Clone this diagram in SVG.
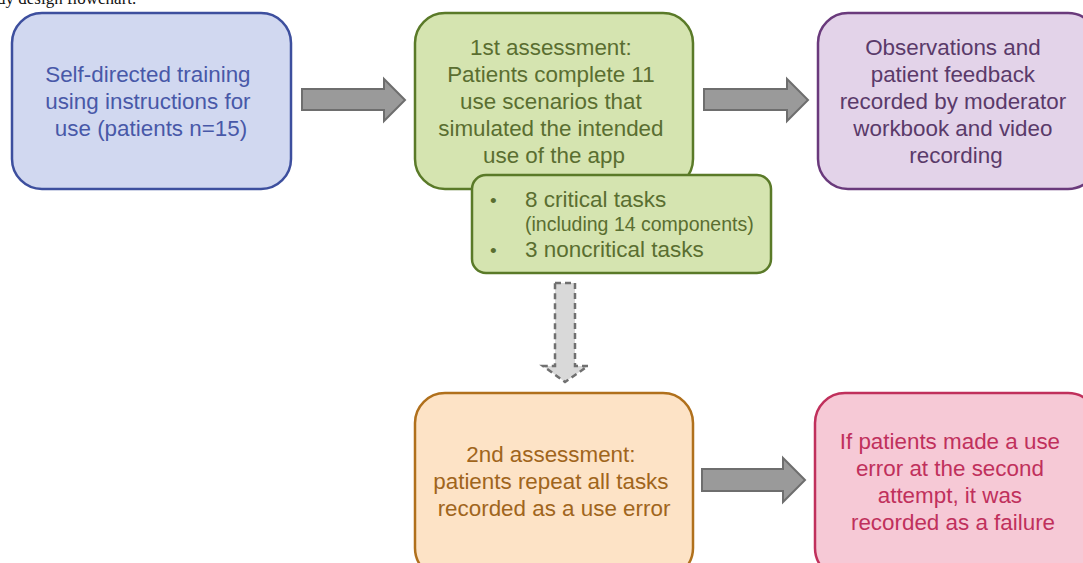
<svg xmlns="http://www.w3.org/2000/svg" width="1083" height="563" viewBox="0 0 1083 563">
  <style>
    .lbl { font-family: "Liberation Sans", Arial, sans-serif; font-size: 22.4px; text-anchor: middle; }
    .box { stroke-width: 2.5; }
    .flow { fill: #9a9a9a; stroke: #6e6e6e; stroke-width: 2; stroke-linejoin: miter; }
    .dashed { fill: #d9d9d9; stroke: #707070; stroke-width: 2.5; stroke-dasharray: 6 4; }
  </style>
  <rect width="1083" height="563" fill="#ffffff"/>

  <!-- caption, clipped at the top edge -->
  <text x="-3" y="4" font-family="Liberation Serif, serif" font-size="17" fill="#111">dy design flowchart.</text>

  <g id="connectors">
    <path class="flow" d="M302,89 H384 V79 L405,100 L384,121 V110 H302 Z"/>
    <path class="flow" d="M704,89 H787 V79 L808,100 L787,121 V110 H704 Z"/>
    <path class="flow" d="M702,469 H783 V458 L805,480 L783,502 V491 H702 Z"/>
    <path class="dashed" d="M555,283 H575 V366 H588 L565,382 L543,366 H555 Z"/>
  </g>

  <g id="training">
    <rect class="box" x="12" y="13" width="279" height="176" rx="30" fill="#d1d8f0" stroke="#3d4f9e"/>
    <text class="lbl" fill="#4858a8">
      <tspan x="151" y="82">Self-directed training</tspan>
      <tspan x="151" y="109">using instructions for</tspan>
      <tspan x="151" y="136">use (patients n=15)</tspan>
    </text>
  </g>

  <g id="assessment1">
    <rect class="box" x="415" y="13" width="278" height="176" rx="30" fill="#d5e4b0" stroke="#5a7a28"/>
    <text class="lbl" fill="#5a6e30">
      <tspan x="554" y="55">1st assessment:</tspan>
      <tspan x="554" y="82">Patients complete 11</tspan>
      <tspan x="554" y="109">use scenarios that</tspan>
      <tspan x="554" y="136">simulated the intended</tspan>
      <tspan x="554" y="163">use of the app</tspan>
    </text>
  </g>

  <g id="tasks">
    <rect class="box" x="472" y="175" width="299" height="98" rx="14" fill="#d5e4b0" stroke="#5a7a28"/>
    <g font-family="Liberation Sans, Arial, sans-serif" fill="#5a6e30">
      <text x="490" y="207" font-size="19">•</text>
      <text x="525" y="207" font-size="22.5">8 critical tasks</text>
      <text x="525" y="231" font-size="19.5">(including 14 components)</text>
      <text x="490" y="257" font-size="19">•</text>
      <text x="525" y="257" font-size="22.5">3 noncritical tasks</text>
    </g>
  </g>

  <g id="observations">
    <rect class="box" x="818" y="13" width="280" height="176" rx="30" fill="#e3d3e9" stroke="#6a3a7c"/>
    <text class="lbl" fill="#5a3a6a">
      <tspan x="956" y="55">Observations and</tspan>
      <tspan x="956" y="82">patient feedback</tspan>
      <tspan x="956" y="109">recorded by moderator</tspan>
      <tspan x="956" y="136">workbook and video</tspan>
      <tspan x="956" y="163">recording</tspan>
    </text>
  </g>

  <g id="assessment2">
    <rect class="box" x="415" y="393" width="278" height="185" rx="30" fill="#fde3c6" stroke="#b0701c"/>
    <text class="lbl" fill="#a0651c">
      <tspan x="554" y="462">2nd assessment:</tspan>
      <tspan x="554" y="489">patients repeat all tasks</tspan>
      <tspan x="554" y="516">recorded as a use error</tspan>
    </text>
  </g>

  <g id="failure">
    <rect class="box" x="815" y="393" width="283" height="185" rx="30" fill="#f6c9d6" stroke="#c0305c"/>
    <text class="lbl" fill="#c0305c">
      <tspan x="953" y="449">If patients made a use</tspan>
      <tspan x="953" y="476">error at the second</tspan>
      <tspan x="953" y="503">attempt, it was</tspan>
      <tspan x="953" y="530">recorded as a failure</tspan>
    </text>
  </g>
</svg>
